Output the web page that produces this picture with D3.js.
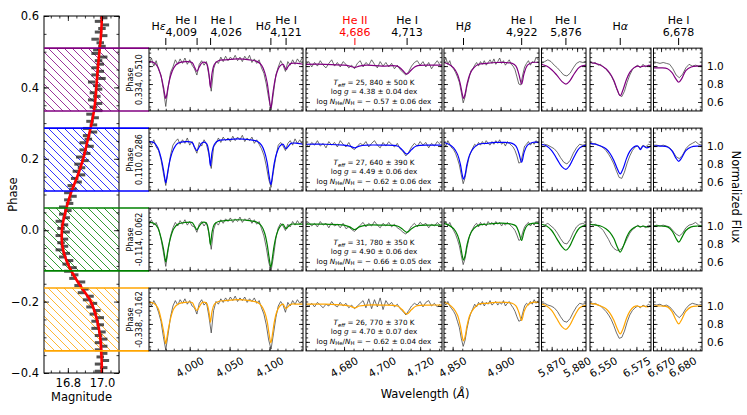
<!DOCTYPE html>
<html><head><meta charset="utf-8">
<script src="https://cdn.jsdelivr.net/npm/d3@7"></script>
<style>body{margin:0;background:#fff}svg{font-family:"DejaVu Sans",sans-serif}</style>
</head><body><svg id="c" width="747" height="415"></svg>
<script>
// ---------------- DATA ----------------
const rowColors=["#800080","#0000ff","#008000","#ffa500"];
const phaseLo=[0.334,0.110,-0.114,-0.338];
const phaseHi=[0.510,0.286,0.062,-0.162];
const teffTxt=["25, 840 ± 500","27, 640 ± 390","31, 780 ± 350","26, 770 ± 370"];
const loggTxt=["4.38 ± 0.04","4.49 ± 0.06","4.90 ± 0.06","4.70 ± 0.07"];
const heTxt=["− 0.57 ± 0.06","− 0.62 ± 0.06","− 0.66 ± 0.05","− 0.62 ± 0.04"];

const lcPhase=[0.595,0.585,0.575,0.565,0.555,0.545,0.535,0.525,0.515,0.505,0.495,0.485,0.475,0.465,0.455,0.445,0.435,0.425,0.415,0.405,0.395,0.385,0.375,0.365,0.355,0.345,0.335,0.325,0.315,0.305,0.295,0.285,0.275,0.265,0.255,0.245,0.235,0.225,0.215,0.205,0.195,0.185,0.175,0.165,0.155,0.145,0.135,0.125,0.115,0.105,0.095,0.085,0.075,0.065,0.055,0.045,0.035,0.025,0.015,0.005,-0.005,-0.015,-0.025,-0.035,-0.045,-0.055,-0.065,-0.075,-0.085,-0.095,-0.105,-0.115,-0.125,-0.135,-0.145,-0.155,-0.165,-0.175,-0.185,-0.195,-0.205,-0.215,-0.225,-0.235,-0.245,-0.255,-0.265,-0.275,-0.285,-0.295,-0.305,-0.315,-0.325,-0.335,-0.345,-0.355,-0.365,-0.375,-0.385,-0.395];
const lcMag=[17.01,16.98,17.02,17.00,16.98,17.01,16.96,16.99,17.00,16.97,16.96,17.01,16.98,16.99,16.96,16.99,16.96,17.00,16.94,16.97,16.98,16.95,16.97,16.94,16.98,16.95,16.98,16.93,16.96,16.93,16.95,16.91,16.95,16.91,16.92,16.89,16.93,16.89,16.91,16.87,16.90,16.86,16.88,16.85,16.88,16.84,16.86,16.82,16.83,16.80,16.83,16.80,16.81,16.77,16.80,16.77,16.79,16.75,16.78,16.76,16.79,16.75,16.78,16.76,16.78,16.75,16.79,16.77,16.81,16.79,16.83,16.80,16.84,16.83,16.88,16.86,16.90,16.88,16.93,16.91,16.95,16.93,16.97,16.95,16.99,16.96,16.99,16.96,17.00,16.98,17.01,16.98,17.01,16.98,17.01,16.99,17.02,16.98,17.01,16.98];
const lcErrHalf=0.022;
const fitPhase=[0.6,0.55,0.5,0.45,0.4,0.35,0.3,0.25,0.2,0.15,0.1,0.05,0.0,-0.05,-0.1,-0.15,-0.2,-0.25,-0.3,-0.35,-0.4];
const fitMag=[17.0,16.995,16.985,16.975,16.967,16.958,16.94,16.915,16.89,16.855,16.815,16.785,16.765,16.77,16.805,16.865,16.935,16.97,16.99,16.997,17.0];

const colTicks=[[4000,4050,4100],[4680,4700,4720],[4850,4900],[5870,5880],[6550,6575],[6670,6680]];
const lineNames=[["H","ε"],["He I","4,009"],["He I","4,026"],["H","δ"],["He I","4,121"],["He II","4,686"],["He I","4,713"],["H","β"],["He I","4,922"],["He I","5,876"],["H","α"],["He I","6,678"]];
const lineWaves=[3970.07,4009.26,4026.19,4101.74,4120.81,4685.7,4713.15,4861.33,4921.93,5875.6,6562.8,6678.15];
const linePanel=[0,0,0,0,0,1,1,2,2,3,4,5];

const obsStart=[3949,4660,4841,5866,6540,6666.5];
const obsStep=[3,1.5,2,1.25,2,1.5];
const modelLam=[
 [3949,3955,3960,3964,3967,3969,3970,3971,3973,3976,3980,3985,3995,4003,4006,4009,4012,4016,4021,4024,4026,4028,4031,4036,4045,4060,4075,4085,4090,4094,4097,4099.5,4101.7,4104,4106,4109,4113,4117,4119,4121,4123,4127,4135,4142],
 [4660,4670,4680,4683,4685.7,4688,4692,4700,4708,4710.5,4713,4715.5,4718,4725,4731.5],
 [4841,4846,4851,4855,4858,4860,4861.3,4863,4865,4868,4872,4877,4885,4895,4905,4912,4916,4919,4921.9,4924.5,4928,4933,4940],
 [5866,5868,5870,5872,5874,5875.6,5877,5879,5881,5883.5],
 [6540,6544,6548,6552,6555,6558,6560.5,6562.8,6565,6567.5,6570,6573,6576,6578,6580,6583,6586],
 [6666.5,6670,6673,6675,6676.8,6678.2,6679.6,6681.5,6684,6687,6689]
];
const mod1=[
 [1.05,1.04,0.99,0.89,0.77,0.67,0.64,0.67,0.77,0.89,0.98,1.03,1.05,1.04,0.99,0.94,0.99,1.04,1.03,0.92,0.76,0.92,1.02,1.06,1.07,1.08,1.07,1.05,1.01,0.93,0.82,0.66,0.53,0.68,0.80,0.92,1.0,1.02,0.99,0.96,0.99,1.03,1.03,1.02],
 [1.02,1.02,1.01,1.0,0.985,1.0,1.01,1.0,1.0,0.96,0.91,0.96,1.0,1.01,1.01],
 [1.04,1.02,0.98,0.91,0.80,0.69,0.64,0.69,0.80,0.91,0.98,1.02,1.03,1.04,1.04,1.03,1.0,0.91,0.80,0.92,1.01,1.04,1.04],
 [1.02,1.0,0.96,0.90,0.83,0.80,0.83,0.92,0.99,1.01],
 [1.04,1.03,1.01,0.97,0.92,0.84,0.74,0.67,0.74,0.85,0.93,0.98,1.0,0.99,1.0,1.0,1.01],
 [0.98,0.98,0.97,0.93,0.86,0.82,0.86,0.95,0.99,1.0,1.0]
];
const mod2=[
 [1.05,1.04,0.98,0.87,0.74,0.63,0.59,0.63,0.74,0.87,0.97,1.03,1.05,1.04,0.99,0.95,0.99,1.04,1.03,0.93,0.78,0.93,1.02,1.06,1.07,1.08,1.07,1.05,1.01,0.93,0.82,0.67,0.57,0.69,0.81,0.92,1.0,1.02,0.99,0.97,0.99,1.03,1.03,1.02],
 [1.02,1.02,1.01,1.0,0.98,1.0,1.01,1.01,1.0,0.96,0.91,0.96,1.0,1.01,1.01],
 [1.04,1.02,0.98,0.91,0.80,0.68,0.63,0.68,0.80,0.91,0.98,1.02,1.03,1.04,1.04,1.03,1.0,0.92,0.82,0.93,1.01,1.04,1.04],
 [1.02,1.0,0.95,0.86,0.77,0.74,0.78,0.89,0.98,1.01],
 [1.03,1.02,1.0,0.97,0.92,0.84,0.75,0.69,0.75,0.86,0.94,0.99,1.0,0.96,1.0,0.98,1.0],
 [1.0,1.0,0.99,0.95,0.87,0.83,0.87,0.95,0.99,1.0,1.0]
];
const mod3=[
 [1.04,1.03,0.98,0.87,0.75,0.64,0.60,0.64,0.75,0.87,0.97,1.02,1.04,1.04,1.0,0.96,1.0,1.04,1.03,0.93,0.79,0.93,1.02,1.05,1.06,1.07,1.06,1.04,1.0,0.92,0.80,0.65,0.54,0.67,0.79,0.91,0.99,1.02,0.99,0.97,0.99,1.02,1.02,1.02],
 [1.02,1.02,1.01,0.99,0.96,0.99,1.01,1.01,1.0,0.97,0.93,0.97,1.0,1.01,1.01],
 [1.03,1.01,0.97,0.90,0.79,0.67,0.62,0.67,0.79,0.90,0.97,1.01,1.02,1.03,1.03,1.02,1.0,0.93,0.84,0.94,1.01,1.03,1.03],
 [1.02,1.0,0.95,0.86,0.77,0.73,0.77,0.89,0.98,1.01],
 [1.02,1.01,1.0,0.97,0.93,0.86,0.77,0.71,0.77,0.87,0.94,0.98,1.0,0.99,1.0,0.99,1.0],
 [1.0,1.0,0.99,0.95,0.87,0.82,0.87,0.95,0.99,1.0,1.0]
];
const mod4=[
 [1.04,1.03,0.98,0.86,0.73,0.62,0.58,0.62,0.73,0.86,0.97,1.02,1.04,1.04,0.99,0.95,0.99,1.04,1.03,0.94,0.82,0.94,1.02,1.05,1.06,1.07,1.06,1.04,1.0,0.93,0.83,0.69,0.59,0.70,0.82,0.93,1.0,1.02,0.99,0.97,0.99,1.02,1.02,1.02],
 [1.02,1.02,1.01,1.0,0.98,1.0,1.01,1.01,1.0,0.96,0.91,0.96,1.0,1.01,1.01],
 [1.04,1.02,0.97,0.90,0.78,0.66,0.61,0.66,0.78,0.90,0.97,1.02,1.03,1.04,1.04,1.03,1.0,0.93,0.84,0.94,1.01,1.04,1.04],
 [1.02,1.0,0.95,0.86,0.77,0.74,0.78,0.89,0.98,1.01],
 [1.03,1.02,1.0,0.97,0.92,0.84,0.75,0.69,0.75,0.86,0.94,0.99,1.0,0.99,1.0,0.99,1.0],
 [1.0,1.0,0.99,0.94,0.85,0.80,0.85,0.94,0.99,1.0,1.0]
];
const obs1=[
 [1.03,1.09,1.00,1.06,0.96,0.90,0.74,0.55,0.76,0.93,0.99,1.07,1.02,1.08,1.03,1.09,1.02,1.07,1.01,0.97,0.90,1.02,1.06,1.01,1.05,0.90,0.72,0.97,1.05,1.03,1.10,1.05,1.11,1.06,1.10,1.07,1.12,1.06,1.10,1.05,1.11,1.07,1.12,1.04,1.08,1.03,1.07,0.98,0.92,0.80,0.64,0.51,0.70,0.90,0.99,1.06,1.01,0.94,1.05,1.01,1.07,1.02,1.08,1.04,1.09],
 [1.02,1.05,0.99,1.04,1.00,1.06,1.01,0.98,1.03,1.07,1.00,1.04,0.99,1.05,1.02,0.98,1.01,0.97,1.03,1.06,0.99,1.04,1.01,1.07,1.02,0.98,1.05,1.00,1.04,0.99,1.03,0.97,1.01,0.96,0.93,0.90,0.94,1.00,1.04,1.06,1.01,1.05,0.99,1.04,0.97,1.02,1.06,1.01],
 [1.05,1.09,1.02,1.06,0.99,0.97,0.93,0.88,0.82,0.71,0.59,0.66,0.78,0.86,0.95,0.97,1.01,1.04,1.00,1.05,1.02,1.06,1.01,1.04,1.07,1.03,1.08,1.02,1.05,1.09,1.03,1.06,1.01,1.04,1.07,1.02,1.00,0.96,0.88,0.80,0.79,0.90,0.99,1.03,1.06,1.01,1.05,1.04,1.10,1.07],
 [1.03,1.05,1.07,1.05,1.01,0.98,0.94,0.90,0.89,0.92,0.98,1.03,1.05,1.04,1.05],
 [1.05,1.03,1.04,1.01,1.02,0.99,0.97,0.93,0.89,0.83,0.75,0.68,0.66,0.72,0.82,0.90,0.96,0.99,1.01,0.98,1.02,0.99,1.01,1.00],
 [1.03,1.04,1.03,1.04,1.03,1.02,0.97,0.90,0.87,0.91,0.98,1.02,1.00,1.01,1.00,1.01]
];
const obs2=[
 [1.06,1.01,1.07,0.99,0.95,0.85,0.70,0.56,0.72,0.90,1.01,1.05,1.08,1.02,1.07,1.03,1.09,1.01,1.05,0.98,0.92,1.04,1.00,1.07,1.02,0.91,0.75,0.99,1.03,1.09,1.04,1.10,1.06,1.09,1.05,1.11,1.06,1.10,1.07,1.12,1.05,1.09,1.06,1.10,1.03,1.07,1.02,0.97,0.90,0.78,0.63,0.54,0.72,0.88,1.01,1.04,1.00,0.95,1.03,1.06,1.01,1.08,1.03,1.07,1.02],
 [1.03,0.99,1.04,1.01,1.06,1.00,1.03,0.98,1.05,1.01,1.04,0.99,1.06,1.02,0.99,1.04,0.98,0.96,1.00,1.03,1.01,1.05,0.99,1.03,1.06,1.01,0.98,1.04,1.00,1.05,1.02,0.99,1.03,0.97,0.94,0.89,0.93,0.99,1.03,1.00,1.05,1.01,1.04,0.98,1.03,1.00,1.05,1.02],
 [1.03,1.00,1.06,1.02,0.98,0.96,0.92,0.86,0.79,0.68,0.58,0.65,0.77,0.87,0.93,0.98,1.02,1.00,1.04,1.01,1.05,1.02,1.06,1.03,1.01,1.05,1.02,1.06,1.03,1.07,1.02,1.04,1.00,1.05,1.03,1.01,0.99,0.95,0.89,0.81,0.82,0.91,1.00,1.02,1.05,1.01,1.04,1.02,1.06,1.03],
 [1.01,1.02,1.01,0.99,0.97,0.93,0.87,0.82,0.80,0.84,0.92,0.98,1.02,1.01,1.02],
 [1.03,1.02,1.03,1.01,1.00,0.98,0.95,0.91,0.86,0.80,0.72,0.65,0.64,0.71,0.81,0.89,0.95,0.99,1.00,0.97,1.01,0.99,1.02,1.01],
 [1.01,1.01,1.0,1.01,1.0,0.98,0.94,0.88,0.86,0.90,0.97,1.01,1.03,1.05,1.02,1.01]
];
const obs3=[
 [1.02,1.07,1.01,1.04,0.97,0.86,0.71,0.55,0.73,0.89,0.98,1.04,1.00,1.06,1.02,1.07,1.01,1.05,1.00,0.99,0.93,1.02,1.05,1.00,1.04,0.92,0.74,0.96,1.04,1.01,1.07,1.03,1.08,1.05,1.09,1.04,1.08,1.05,1.10,1.04,1.08,1.06,1.09,1.03,1.07,1.02,1.05,0.97,0.89,0.76,0.60,0.50,0.66,0.86,0.98,1.03,1.00,0.95,1.02,0.99,1.05,1.01,1.06,1.02,1.05],
 [1.01,1.04,1.00,1.03,0.99,1.05,1.01,1.03,0.98,1.04,1.00,1.02,0.98,1.03,0.97,0.99,0.96,0.94,0.97,1.01,1.04,0.99,1.03,1.00,1.05,1.01,0.98,1.03,1.00,1.04,0.99,1.02,0.98,0.96,0.93,0.91,0.95,1.00,1.03,0.99,1.04,1.01,1.03,0.98,1.02,1.00,1.04,1.01],
 [1.02,1.05,1.00,1.04,0.99,0.95,0.91,0.85,0.78,0.67,0.57,0.64,0.76,0.86,0.93,0.97,1.01,1.03,0.99,1.04,1.01,1.03,1.00,1.05,1.02,1.04,1.01,1.05,1.02,1.04,1.00,1.03,1.01,1.04,1.02,1.00,0.98,0.95,0.90,0.84,0.85,0.93,0.99,1.02,1.04,1.00,1.03,1.01,1.05,1.02],
 [1.02,1.01,1.03,1.00,0.97,0.92,0.86,0.81,0.80,0.85,0.93,0.99,1.02,1.03,1.01],
 [1.02,1.01,1.02,1.00,0.98,0.95,0.90,0.85,0.79,0.75,0.73,0.73,0.75,0.80,0.86,0.92,0.96,0.98,1.01,0.99,1.00,0.98,1.01,1.00],
 [1.00,1.01,1.0,1.01,1.0,0.99,0.95,0.91,0.89,0.92,0.98,1.01,1.02,1.04,1.01,1.00]
];
const obs4=[
 [1.05,1.00,1.06,1.01,0.93,0.83,0.66,0.51,0.69,0.88,1.00,1.06,1.01,1.07,1.03,1.08,1.02,1.06,1.00,0.98,0.91,1.03,1.07,1.01,1.04,0.89,0.70,0.95,1.05,1.02,1.08,1.04,1.09,1.05,1.10,1.06,1.11,1.05,1.09,1.06,1.10,1.04,1.08,1.05,1.09,1.03,1.06,0.98,0.91,0.79,0.62,0.52,0.69,0.87,1.00,1.05,1.01,0.93,1.04,1.00,1.06,1.02,1.07,1.03,1.06],
 [1.02,1.00,1.03,0.99,1.04,1.01,0.98,1.02,1.00,1.05,1.01,0.99,1.04,1.00,1.03,0.98,1.01,0.97,1.00,1.03,1.06,0.98,1.08,0.97,1.07,0.99,1.09,0.96,1.06,1.01,1.04,0.99,1.02,0.97,0.94,0.90,0.95,1.00,1.03,1.01,1.05,0.99,1.04,1.06,1.00,1.03,0.99,1.02],
 [1.04,1.01,1.05,1.00,0.97,0.94,0.90,0.83,0.76,0.64,0.55,0.62,0.75,0.85,0.92,0.97,1.02,0.99,1.04,1.01,1.05,1.00,1.04,1.02,1.06,1.01,1.03,1.05,1.01,1.04,1.02,1.06,1.00,1.03,1.05,1.01,0.98,0.94,0.88,0.83,0.84,0.92,1.00,1.03,1.01,1.05,1.02,1.07,1.03,1.06],
 [1.02,1.03,1.01,1.00,0.98,0.94,0.88,0.83,0.82,0.86,0.93,0.99,1.03,1.02,1.03],
 [1.03,1.02,1.03,1.01,1.00,0.97,0.94,0.90,0.85,0.78,0.70,0.64,0.65,0.72,0.82,0.90,0.95,0.98,1.00,0.98,1.01,0.99,1.02,1.00],
 [1.02,1.01,1.02,1.0,1.01,0.99,0.95,0.90,0.87,0.91,0.97,1.01,1.03,1.02,1.01,1.02]
];
const models=[mod1,mod2,mod3,mod4];
const observed=[obs1,obs2,obs3,obs4];

// ---------------- LAYOUT ----------------
const svg=d3.select("#c");
const FS=11.5;
const L={x0:44,x1:119,y0:16,y1:373};
const xMag=d3.scaleLinear().domain([16.66,17.10]).range([L.x0,L.x1]);
const yPh=d3.scaleLinear().domain([-0.4,0.6]).range([L.y1,L.y0]);
const cols=[
 {x0:149,x1:303,dom:[3949,4142],minor:10},
 {x0:306,x1:442,dom:[4660,4731.5],minor:5},
 {x0:444,x1:539,dom:[4841,4940],minor:10},
 {x0:541.5,x1:586,dom:[5866,5883.5],minor:2},
 {x0:590,x1:651,dom:[6540,6586],minor:5},
 {x0:653.5,x1:702,dom:[6666.5,6689],minor:2}
];
cols.forEach(c=>c.sc=d3.scaleLinear().domain(c.dom).range([c.x0,c.x1]));
const defs=svg.append("defs");
rowColors.forEach((c,i)=>{
  const p=defs.append("pattern").attr("id","hatch"+i).attr("patternUnits","userSpaceOnUse").attr("width",8).attr("height",8);
  p.append("path").attr("d","M-2,-2L10,10M-2,6L2,10M6,-2L10,2").attr("stroke",c).attr("stroke-width",0.8).attr("fill","none");
});

function inTicks(g,scale,vals,side,pos,len){
  const fn={bottom:d3.axisBottom,top:d3.axisTop,left:d3.axisLeft,right:d3.axisRight}[side];
  const tr=(side==="bottom"||side==="top")?`translate(0,${pos})`:`translate(${pos},0)`;
  const s=g.append("g").attr("transform",tr).call(fn(scale).tickValues(vals).tickSize(-len).tickFormat(""));
  s.select(".domain").remove();
  s.selectAll("line").attr("stroke","#000").attr("stroke-width",0.8);
}
function within(vals,dom){const lo=Math.min(...dom),hi=Math.max(...dom);return vals.filter(v=>v>=lo-1e-9&&v<=hi+1e-9);}

// ---------------- LEFT PANEL ----------------
defs.append("clipPath").attr("id","clipL").append("rect").attr("x",L.x0).attr("y",L.y0).attr("width",L.x1-L.x0).attr("height",L.y1-L.y0);
const gL=svg.append("g");
const gLc=gL.append("g").attr("clip-path","url(#clipL)");
phaseLo.forEach((lo,i)=>{
  gLc.append("rect").attr("x",L.x0).attr("width",L.x1-L.x0).attr("y",yPh(phaseHi[i])).attr("height",yPh(lo)-yPh(phaseHi[i])).attr("fill",`url(#hatch${i})`);
});
gLc.selectAll("rect.pt").data(lcPhase.map((p,i)=>[p,lcMag[i]])).join("rect").attr("class","pt")
  .attr("x",d=>xMag(d[1]-lcErrHalf)).attr("width",d=>xMag(d[1]+lcErrHalf)-xMag(d[1]-lcErrHalf))
  .attr("y",d=>yPh(d[0])-1.5).attr("height",3).attr("fill","#1a1a1a").attr("opacity",0.75);
gLc.append("path").datum(fitPhase.map((p,i)=>[fitMag[i],p]))
  .attr("d",d3.line().x(d=>xMag(d[0])).y(d=>yPh(d[1])).curve(d3.curveCatmullRom))
  .attr("fill","none").attr("stroke","#ff0000").attr("stroke-width",2.6);
const phMaj=[-0.4,-0.2,0,0.2,0.4,0.6], phMin=d3.range(-0.4,0.601,0.05);
const magMaj=[16.8,17.0], magMin=d3.range(16.7,17.101,0.05);
inTicks(gL,yPh,phMin,"left",L.x0,2.5);inTicks(gL,yPh,phMin,"right",L.x1,2.5);
inTicks(gL,yPh,phMaj,"left",L.x0,5);inTicks(gL,yPh,phMaj,"right",L.x1,5);
inTicks(gL,xMag,magMin,"bottom",L.y1,2.5);inTicks(gL,xMag,magMin,"top",L.y0,2.5);
inTicks(gL,xMag,magMaj,"bottom",L.y1,5);inTicks(gL,xMag,magMaj,"top",L.y0,5);
const yl=gL.append("g").attr("transform",`translate(${L.x0},0)`).call(d3.axisLeft(yPh).tickValues(phMaj).tickFormat(d3.format(".1f")).tickSize(0).tickPadding(5));
yl.select(".domain").remove();
yl.selectAll("text").attr("font-size",FS).attr("font-family","DejaVu Sans").attr("fill","#000");
const xl=gL.append("g").attr("transform",`translate(0,${L.y1})`).call(d3.axisBottom(xMag).tickValues(magMaj).tickFormat(d3.format(".1f")).tickSize(0).tickPadding(6));
xl.select(".domain").remove();
xl.selectAll("text").attr("font-size",FS).attr("font-family","DejaVu Sans").attr("fill","#000");
gL.append("rect").attr("x",L.x0).attr("y",L.y0).attr("width",L.x1-L.x0).attr("height",L.y1-L.y0).attr("fill","none").attr("stroke","#000").attr("stroke-width",1);
svg.append("text").attr("transform",`translate(17,${(L.y0+L.y1)/2}) rotate(-90)`).attr("text-anchor","middle").attr("font-size",FS).text("Phase");
svg.append("text").attr("x",(L.x0+L.x1)/2).attr("y",401).attr("text-anchor","middle").attr("font-size",FS).text("Magnitude");

// row colour lines + phase labels
phaseLo.forEach((lo,i)=>{
  [lo,phaseHi[i]].forEach(p=>{
    svg.append("line").attr("x1",L.x0).attr("x2",cols[0].x0).attr("y1",yPh(p)).attr("y2",yPh(p)).attr("stroke",rowColors[i]).attr("stroke-width",1.6);
  });
  const cy=(yPh(lo)+yPh(phaseHi[i]))/2;
  const g=svg.append("g").attr("transform",`translate(134,${cy}) rotate(-90)`);
  g.append("text").attr("x",0).attr("y",-1).attr("text-anchor","middle").attr("font-size",8).text("Phase");
  g.append("text").attr("x",0).attr("y",8.3).attr("text-anchor","middle").attr("font-size",8).text(`${lo.toFixed(3)}, ${phaseHi[i].toFixed(3)}`);
});

// ---------------- SPECTRA ----------------
phaseLo.forEach((lo,r)=>{
  const yt=yPh(phaseHi[r]), yb=yPh(lo);
  const yF=d3.scaleLinear().domain([0.5,1.2]).range([yb,yt]);
  cols.forEach((c,ci)=>{
    const id=`cl${r}_${ci}`;
    defs.append("clipPath").attr("id",id).append("rect").attr("x",c.x0).attr("y",yt).attr("width",c.x1-c.x0).attr("height",yb-yt);
    const g=svg.append("g");
    const gc=g.append("g").attr("clip-path",`url(#${id})`);
    const ob=observed[r][ci].map((v,i)=>[obsStart[ci]+i*obsStep[ci],v]);
    gc.append("path").datum(ob).attr("d",d3.line().x(d=>c.sc(d[0])).y(d=>yF(d[1])))
      .attr("fill","none").attr("stroke","#404040").attr("stroke-width",0.9).attr("opacity",0.85);
    const md=modelLam[ci].map((w,i)=>[w,models[r][ci][i]]);
    gc.append("path").datum(md).attr("d",d3.line().x(d=>c.sc(d[0])).y(d=>yF(d[1])).curve(d3.curveCatmullRom))
      .attr("fill","none").attr("stroke",rowColors[r]).attr("stroke-width",1.2);
    const xMin=within(d3.range(Math.ceil(c.dom[0]/c.minor)*c.minor,c.dom[1],c.minor),c.dom);
    inTicks(g,c.sc,xMin,"bottom",yb,2.2);inTicks(g,c.sc,xMin,"top",yt,2.2);
    inTicks(g,c.sc,colTicks[ci],"bottom",yb,4);inTicks(g,c.sc,colTicks[ci],"top",yt,4);
    const fMin=d3.range(0.55,1.2,0.05), fMaj=[0.6,0.8,1.0];
    inTicks(g,yF,fMin,"left",c.x0,2.2);inTicks(g,yF,fMin,"right",c.x1,2.2);
    inTicks(g,yF,fMaj,"left",c.x0,4);inTicks(g,yF,fMaj,"right",c.x1,4);
    g.append("rect").attr("x",c.x0).attr("y",yt).attr("width",c.x1-c.x0).attr("height",yb-yt).attr("fill","none").attr("stroke","#000").attr("stroke-width",1);
    if(ci===5){
      const ax=g.append("g").attr("transform",`translate(${c.x1},0)`).call(d3.axisRight(yF).tickValues(fMaj).tickFormat(d3.format(".1f")).tickSize(0).tickPadding(5));
      ax.select(".domain").remove();
      ax.selectAll("text").attr("font-size",10.5).attr("font-family","DejaVu Sans").attr("fill","#000");
    }
    if(r===3){
      colTicks[ci].forEach(v=>{
        svg.append("text").attr("transform",`translate(${c.sc(v)},${yb+16}) rotate(-30)`)
          .attr("text-anchor","middle").attr("dominant-baseline","central").attr("font-size",10.5).text(d3.format(",")(v));
      });
    }
  });
  const cx=(cols[1].x0+cols[1].x1)/2, pf=7.2, sf=5.4;
  const t1=svg.append("text").attr("x",cx).attr("y",yt+37).attr("text-anchor","middle").attr("font-size",pf);
  t1.append("tspan").attr("font-style","italic").text("T");
  t1.append("tspan").attr("font-size",sf).attr("font-style","italic").attr("dy",1.8).text("eff");
  t1.append("tspan").attr("dy",-1.8).text(` = ${teffTxt[r]} K`);
  const t2=svg.append("text").attr("x",cx).attr("y",yt+46).attr("text-anchor","middle").attr("font-size",pf);
  t2.append("tspan").text("log ");
  t2.append("tspan").attr("font-style","italic").text("g");
  t2.append("tspan").text(` = ${loggTxt[r]} dex`);
  const t3=svg.append("text").attr("x",cx).attr("y",yt+55.5).attr("text-anchor","middle").attr("font-size",pf);
  t3.append("tspan").text("log ");
  t3.append("tspan").attr("font-style","italic").text("N");
  t3.append("tspan").attr("font-size",sf).attr("dy",1.8).text("He");
  t3.append("tspan").attr("dy",-1.8).text("/");
  t3.append("tspan").attr("font-style","italic").text("N");
  t3.append("tspan").attr("font-size",sf).attr("dy",1.8).text("H");
  t3.append("tspan").attr("dy",-1.8).text(` = ${heTxt[r]} dex`);
});

// ---------------- LINE IDs ----------------
const anchors=["end","end","start","end","middle","middle","middle","middle","middle","middle","middle","middle"];
lineNames.forEach((nm,i)=>{
  const c=cols[linePanel[i]], x=c.sc(lineWaves[i]);
  const col=nm[0]==="He II"?"#ff0000":"#000";
  svg.append("line").attr("x1",x).attr("x2",x).attr("y1",38).attr("y2",45).attr("stroke",col).attr("stroke-width",1);
  if(nm[0]==="H"){
    const t=svg.append("text").attr("x",x).attr("y",29.5).attr("text-anchor",anchors[i]).attr("font-size",11).attr("fill",col);
    t.append("tspan").text("H");
    t.append("tspan").attr("font-style","italic").text(nm[1]);
  } else {
    svg.append("text").attr("x",x).attr("y",24).attr("text-anchor",anchors[i]).attr("font-size",11).attr("fill",col).text(nm[0]);
    svg.append("text").attr("x",x).attr("y",35.5).attr("text-anchor",anchors[i]).attr("font-size",11).attr("fill",col).text(nm[1]);
  }
});

const wl=svg.append("text").attr("x",425).attr("y",398).attr("text-anchor","middle").attr("font-size",FS);
wl.append("tspan").text("Wavelength (");
wl.append("tspan").attr("font-style","italic").text("Å");
wl.append("tspan").text(")");
svg.append("text").attr("transform","translate(732,197) rotate(90)").attr("text-anchor","middle").attr("font-size",FS).text("Normalized Flux");
</script></body></html>
